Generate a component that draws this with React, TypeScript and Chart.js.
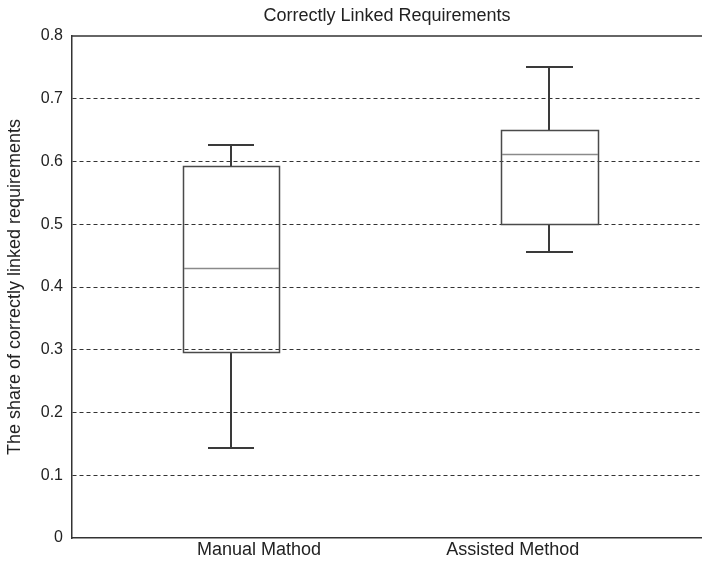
import React, { useEffect, useRef } from "react";
import { Chart, registerables } from "chart.js";

Chart.register(...registerables);

// ---- data ----
const categories = ["Manual Mathod", "Assisted Method"];
const boxPositions = [1, 2];
const whiskerLow = [0.144, 0.455];
const quartile1 = [0.297, 0.5];
const medians = [0.43, 0.612];
const quartile3 = [0.593, 0.65];
const whiskerHigh = [0.626, 0.751];
const yTickValues = [0, 0.1, 0.2, 0.3, 0.4, 0.5, 0.6, 0.7, 0.8];
const titleText = "Correctly Linked Requirements";
const yTitleText = "The share of correctly linked requirements";

const FONT = "'Liberation Sans', Arial, sans-serif";
const BOX_HALF = 0.152;
const CAP_HALF = 0.073;
const LABEL_VALUES = [1.088, 1.885];

const boxPlugin = {
  id: "boxplot",
  afterDatasetsDraw(chart: any) {
    const { ctx, scales } = chart;
    const x = scales.x;
    const y = scales.y;
    const ds = chart.data.datasets[0];
    ctx.save();
    ds.data.forEach((d: any) => {
      const xc = Math.round(x.getPixelForValue(d.x));
      const xl = Math.round(x.getPixelForValue(d.x - BOX_HALF));
      const xr = Math.round(x.getPixelForValue(d.x + BOX_HALF));
      const cl = Math.round(x.getPixelForValue(d.x - CAP_HALF));
      const cr = Math.round(x.getPixelForValue(d.x + CAP_HALF));
      const yMin = Math.round(y.getPixelForValue(d.min));
      const yQ1 = Math.round(y.getPixelForValue(d.q1));
      const yMed = Math.round(y.getPixelForValue(d.y));
      const yQ3 = Math.round(y.getPixelForValue(d.q3));
      const yMax = Math.round(y.getPixelForValue(d.max));

      // whiskers
      ctx.strokeStyle = "#3a3a3a";
      ctx.lineWidth = 2;
      ctx.beginPath();
      ctx.moveTo(xc, yQ3);
      ctx.lineTo(xc, yMax);
      ctx.moveTo(xc, yQ1);
      ctx.lineTo(xc, yMin);
      ctx.stroke();
      ctx.beginPath();
      ctx.moveTo(cl, yMax);
      ctx.lineTo(cr, yMax);
      ctx.moveTo(cl, yMin);
      ctx.lineTo(cr, yMin);
      ctx.stroke();

      // box
      ctx.strokeStyle = "#4a4a4a";
      ctx.lineWidth = 1.5;
      ctx.strokeRect(xl + 0.5, yQ3 + 0.5, xr - xl, yQ1 - yQ3);

      // median
      ctx.strokeStyle = "#8a8a8a";
      ctx.lineWidth = 1.5;
      ctx.beginPath();
      ctx.moveTo(xl + 1, yMed + 0.5);
      ctx.lineTo(xr, yMed + 0.5);
      ctx.stroke();
    });
    ctx.restore();
  },
};

const topBorderPlugin = {
  id: "topBorder",
  afterDraw(chart: any) {
    const { ctx, chartArea } = chart;
    ctx.save();
    ctx.strokeStyle = "#333";
    ctx.lineWidth = 1.5;
    ctx.beginPath();
    ctx.moveTo(chartArea.left, chartArea.top);
    ctx.lineTo(chartArea.right, chartArea.top);
    ctx.stroke();
    ctx.restore();
  },
};

export default function App() {
  const canvasRef = useRef<HTMLCanvasElement | null>(null);

  useEffect(() => {
    if (!canvasRef.current) return;
    const data = boxPositions.map((p, i) => ({
      x: p,
      y: medians[i],
      min: whiskerLow[i],
      q1: quartile1[i],
      q3: quartile3[i],
      max: whiskerHigh[i],
    }));
    const chart = new Chart(canvasRef.current, {
      type: "scatter",
      data: {
        datasets: [
          {
            label: "boxes",
            data: data as any,
            pointRadius: 0,
            pointHoverRadius: 0,
            showLine: false,
          },
        ],
      },
      options: {
        animation: false,
        responsive: true,
        maintainAspectRatio: false,
        layout: { padding: 0 },
        plugins: {
          legend: { display: false },
          tooltip: { enabled: false },
          title: {
            display: true,
            text: titleText,
            fullSize: false,
            color: "#222",
            font: { family: FONT, size: 18, weight: "normal", lineHeight: 1.2 },
            padding: { top: 5, bottom: 9.4 },
          },
        },
        scales: {
          x: {
            type: "linear",
            min: 0.5,
            max: 2.48,
            afterBuildTicks: (scale: any) => {
              scale.ticks = LABEL_VALUES.map((v) => ({ value: v }));
            },
            afterFit: (scale: any) => {
              scale.height = 23;
            },
            ticks: {
              callback: (_v: any, i: number) => categories[i],
              color: "#222",
              font: { family: FONT, size: 18 },
              padding: 1,
              maxRotation: 0,
              autoSkip: false,
            },
            grid: { display: false, drawTicks: false },
            border: { display: true, color: "#333", width: 1.5 },
          },
          y: {
            type: "linear",
            min: 0,
            max: 0.8,
            afterBuildTicks: (scale: any) => {
              scale.ticks = yTickValues.map((v) => ({ value: v }));
            },
            afterFit: (scale: any) => {
              scale.width = 72;
            },
            ticks: {
              callback: (v: any) => (Number(v) === 0 ? "0" : Number(v).toFixed(1)),
              color: "#222",
              font: { family: FONT, size: 16 },
              padding: 9,
            },
            grid: {
              drawTicks: false,
              color: (c: any) =>
                c.tick && (c.tick.value === 0 || Math.abs(c.tick.value - 0.8) < 1e-9)
                  ? "rgba(0,0,0,0)"
                  : "#333",
              lineWidth: 1,
            },
            border: { display: true, color: "#333", width: 1.5, dash: [4, 3] },
            title: {
              display: true,
              text: yTitleText,
              color: "#222",
              font: { family: FONT, size: 18, lineHeight: 1.2 },
              padding: { top: 4, bottom: 0 },
            },
          },
        },
      },
      plugins: [boxPlugin, topBorderPlugin],
    } as any);
    return () => chart.destroy();
  }, []);

  return (
    <div style={{ position: "absolute", left: 0, top: 0, width: 702, height: 561, background: "#fff" }}>
      <canvas ref={canvasRef} />
    </div>
  );
}
